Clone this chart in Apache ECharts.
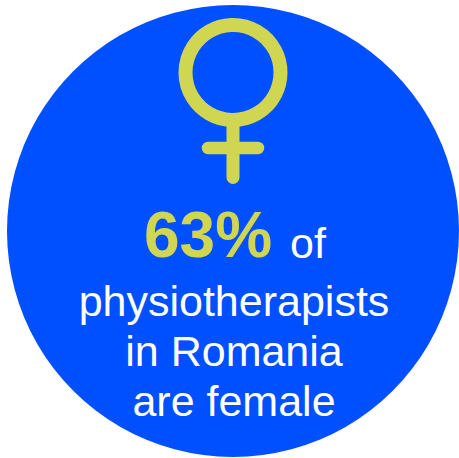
<!DOCTYPE html>
<html><head><meta charset="utf-8">
<style>html,body{margin:0;padding:0;background:#fff}#c{width:459px;height:458px}</style>
<script src="https://cdn.jsdelivr.net/npm/echarts@6/dist/echarts.min.js"></script>
</head><body><div id="c"></div>
<script>
const percent = "63%";
const lineOf = "of";
const lines = ["physiotherapists", "in Romania", "are female"];
const lineY = [301, 351, 401];
const blue = "#0050FF", lime = "#D0D652";
const font = "Liberation Sans";
const chart = echarts.init(document.getElementById('c'), null, {renderer:'svg'});
const graphic = [
 {type:'circle',shape:{cx:233,cy:231,r:226},style:{fill:blue}},
 {type:'line',shape:{x1:233,y1:122,x2:233,y2:177.5},style:{stroke:lime,lineWidth:13,lineCap:'round'}},
 {type:'line',shape:{x1:208,y1:148,x2:258,y2:148},style:{stroke:lime,lineWidth:12.5,lineCap:'round'}},
 {type:'circle',shape:{cx:233,cy:72.5,r:47.5},style:{fill:blue,stroke:lime,lineWidth:14}},
 {type:'text',style:{x:144,y:235,text:percent,fill:lime,font:'bold 64px "'+font+'"',textVerticalAlign:'middle'}},
 {type:'text',style:{x:290,y:243,text:lineOf,fill:'#fff',font:'43px "'+font+'"',textVerticalAlign:'middle'}}
].concat(lines.map((t,i)=>({type:'text',style:{x:234,y:lineY[i],text:t,fill:'#fff',font:'43px "'+font+'"',textAlign:'center',textVerticalAlign:'middle'}})));
chart.setOption({animation:false,graphic:graphic});
</script></body></html>
